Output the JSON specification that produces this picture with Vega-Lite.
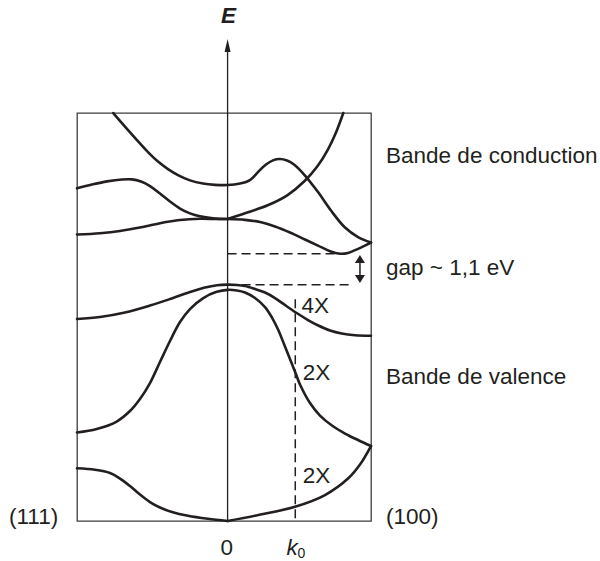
{
  "$schema": "https://vega.github.io/schema/vega-lite/v6.json",
  "width": 294,
  "height": 408,
  "autosize": {"type": "none"},
  "padding": {"left": 77, "top": 113, "right": 229, "bottom": 40},
  "background": "white",
  "config": {
    "view": {"stroke": "#3c3c3c", "strokeWidth": 1.3},
    "text": {"font": "Liberation Sans", "fontSize": 22.5, "color": "#231f20", "baseline": "alphabetic"}
  },
  "datasets": {
    "bands": [
      {"band": "A", "k": -0.797, "E": 6.098},
      {"band": "A", "k": -0.7155, "E": 5.618},
      {"band": "A", "k": -0.6318, "E": 5.139},
      {"band": "A", "k": -0.5551, "E": 4.712},
      {"band": "A", "k": -0.4854, "E": 4.375},
      {"band": "A", "k": -0.4156, "E": 4.108},
      {"band": "A", "k": -0.3459, "E": 3.895},
      {"band": "A", "k": -0.2622, "E": 3.706},
      {"band": "A", "k": -0.1715, "E": 3.593},
      {"band": "A", "k": -0.0879, "E": 3.547},
      {"band": "A", "k": 0, "E": 3.539},
      {"band": "A", "k": 0.0865, "E": 3.593},
      {"band": "A", "k": 0.1562, "E": 3.717},
      {"band": "A", "k": 0.212, "E": 4.001},
      {"band": "A", "k": 0.2678, "E": 4.268},
      {"band": "A", "k": 0.3166, "E": 4.417},
      {"band": "A", "k": 0.3654, "E": 4.463},
      {"band": "A", "k": 0.4142, "E": 4.41},
      {"band": "A", "k": 0.463, "E": 4.268},
      {"band": "A", "k": 0.5397, "E": 3.877},
      {"band": "A", "k": 0.6304, "E": 3.291},
      {"band": "A", "k": 0.7211, "E": 2.633},
      {"band": "A", "k": 0.8187, "E": 2.029},
      {"band": "A", "k": 0.9093, "E": 1.692},
      {"band": "A", "k": 1.0, "E": 1.496},

      {"band": "B-L", "k": -1.05, "E": 3.422},
      {"band": "B-L", "k": -0.9456, "E": 3.557},
      {"band": "B-L", "k": -0.841, "E": 3.671},
      {"band": "B-L", "k": -0.7364, "E": 3.738},
      {"band": "B-L", "k": -0.6667, "E": 3.742},
      {"band": "B-L", "k": -0.6039, "E": 3.664},
      {"band": "B-L", "k": -0.5411, "E": 3.504},
      {"band": "B-L", "k": -0.4714, "E": 3.237},
      {"band": "B-L", "k": -0.4017, "E": 2.953},
      {"band": "B-L", "k": -0.3319, "E": 2.704},
      {"band": "B-L", "k": -0.2622, "E": 2.534},
      {"band": "B-L", "k": -0.1925, "E": 2.427},
      {"band": "B-L", "k": -0.1018, "E": 2.356},
      {"band": "B-L", "k": 0, "E": 2.331},

      {"band": "B-R", "k": 0, "E": 2.331},
      {"band": "B-R", "k": 0.1213, "E": 2.534},
      {"band": "B-R", "k": 0.2838, "E": 2.829},
      {"band": "B-R", "k": 0.4184, "E": 3.184},
      {"band": "B-R", "k": 0.537, "E": 3.682},
      {"band": "B-R", "k": 0.6276, "E": 4.215},
      {"band": "B-R", "k": 0.6974, "E": 4.783},
      {"band": "B-R", "k": 0.7531, "E": 5.37},
      {"band": "B-R", "k": 0.8068, "E": 6.098},

      {"band": "C-L", "k": -1.05, "E": 1.78},
      {"band": "C-L", "k": -0.8898, "E": 1.827},
      {"band": "C-L", "k": -0.7503, "E": 1.905},
      {"band": "C-L", "k": -0.6109, "E": 2.029},
      {"band": "C-L", "k": -0.4714, "E": 2.182},
      {"band": "C-L", "k": -0.3319, "E": 2.296},
      {"band": "C-L", "k": -0.1925, "E": 2.342},
      {"band": "C-L", "k": -0.0879, "E": 2.335},
      {"band": "C-L", "k": 0, "E": 2.331},

      {"band": "C-R", "k": 0, "E": 2.331},
      {"band": "C-R", "k": 0.1213, "E": 2.303},
      {"band": "C-R", "k": 0.2259, "E": 2.225},
      {"band": "C-R", "k": 0.3305, "E": 2.065},
      {"band": "C-R", "k": 0.4351, "E": 1.851},
      {"band": "C-R", "k": 0.5397, "E": 1.603},
      {"band": "C-R", "k": 0.6304, "E": 1.389},
      {"band": "C-R", "k": 0.7141, "E": 1.187},
      {"band": "C-R", "k": 0.7838, "E": 1.1},
      {"band": "C-R", "k": 0.8396, "E": 1.127},
      {"band": "C-R", "k": 0.9093, "E": 1.272},
      {"band": "C-R", "k": 1.0, "E": 1.496},

      {"band": "D", "k": -1.05, "E": -1.222},
      {"band": "D", "k": -0.8898, "E": -1.151},
      {"band": "D", "k": -0.7155, "E": -0.991},
      {"band": "D", "k": -0.5411, "E": -0.743},
      {"band": "D", "k": -0.4017, "E": -0.512},
      {"band": "D", "k": -0.2622, "E": -0.263},
      {"band": "D", "k": -0.1576, "E": -0.103},
      {"band": "D", "k": -0.0739, "E": -0.021},
      {"band": "D", "k": 0, "E": 0},
      {"band": "D", "k": 0.0656, "E": -0.011},
      {"band": "D", "k": 0.1213, "E": -0.05},
      {"band": "D", "k": 0.1911, "E": -0.156},
      {"band": "D", "k": 0.2608, "E": -0.281},
      {"band": "D", "k": 0.3305, "E": -0.476},
      {"band": "D", "k": 0.4003, "E": -0.725},
      {"band": "D", "k": 0.4819, "E": -1.009},
      {"band": "D", "k": 0.5607, "E": -1.258},
      {"band": "D", "k": 0.6325, "E": -1.453},
      {"band": "D", "k": 0.7141, "E": -1.631},
      {"band": "D", "k": 0.7957, "E": -1.738},
      {"band": "D", "k": 0.8884, "E": -1.798},
      {"band": "D", "k": 1.0, "E": -1.819},

      {"band": "E", "k": -1.05, "E": -5.256},
      {"band": "E", "k": -0.9128, "E": -5.131},
      {"band": "E", "k": -0.7734, "E": -4.865},
      {"band": "E", "k": -0.6806, "E": -4.492},
      {"band": "E", "k": -0.6109, "E": -4.065},
      {"band": "E", "k": -0.5411, "E": -3.497},
      {"band": "E", "k": -0.4714, "E": -2.751},
      {"band": "E", "k": -0.4017, "E": -2.004},
      {"band": "E", "k": -0.3319, "E": -1.329},
      {"band": "E", "k": -0.2622, "E": -0.867},
      {"band": "E", "k": -0.1695, "E": -0.476},
      {"band": "E", "k": -0.076, "E": -0.256},
      {"band": "E", "k": 0, "E": -0.185},
      {"band": "E", "k": 0.0656, "E": -0.21},
      {"band": "E", "k": 0.1213, "E": -0.281},
      {"band": "E", "k": 0.1911, "E": -0.476},
      {"band": "E", "k": 0.2608, "E": -0.796},
      {"band": "E", "k": 0.3096, "E": -1.169},
      {"band": "E", "k": 0.3536, "E": -1.613},
      {"band": "E", "k": 0.3933, "E": -2.111},
      {"band": "E", "k": 0.4351, "E": -2.644},
      {"band": "E", "k": 0.4819, "E": -3.248},
      {"band": "E", "k": 0.5049, "E": -3.55},
      {"band": "E", "k": 0.5746, "E": -4.208},
      {"band": "E", "k": 0.6444, "E": -4.652},
      {"band": "E", "k": 0.728, "E": -5.007},
      {"band": "E", "k": 0.8187, "E": -5.291},
      {"band": "E", "k": 0.9093, "E": -5.522},
      {"band": "E", "k": 1.0, "E": -5.736},

      {"band": "F-L", "k": -1.05, "E": -6.528},
      {"band": "F-L", "k": -0.9247, "E": -6.581},
      {"band": "F-L", "k": -0.8201, "E": -6.695},
      {"band": "F-L", "k": -0.7503, "E": -6.891},
      {"band": "F-L", "k": -0.6806, "E": -7.157},
      {"band": "F-L", "k": -0.6109, "E": -7.459},
      {"band": "F-L", "k": -0.5411, "E": -7.726},
      {"band": "F-L", "k": -0.4714, "E": -7.921},
      {"band": "F-L", "k": -0.3877, "E": -8.081},
      {"band": "F-L", "k": -0.2762, "E": -8.216},
      {"band": "F-L", "k": -0.1367, "E": -8.323},
      {"band": "F-L", "k": 0, "E": -8.4},

      {"band": "F-R", "k": 0, "E": -8.4},
      {"band": "F-R", "k": 0.2141, "E": -8.188},
      {"band": "F-R", "k": 0.47, "E": -7.893},
      {"band": "F-R", "k": 0.6792, "E": -7.477},
      {"band": "F-R", "k": 0.8417, "E": -6.883},
      {"band": "F-R", "k": 0.9233, "E": -6.393},
      {"band": "F-R", "k": 1.0, "E": -5.736}
    ],
    "dashed": [
      {"k": 0, "E": 1.1, "k2": 0.785, "E2": 1.1},
      {"k": 0, "E": 0, "k2": 0.85, "E2": 0},
      {"k": 0.472, "E": -0.52, "k2": 0.472, "E2": -8.4}
    ],
    "labels": [
      {"text": "Bande de conduction", "k": 1.105, "E": 4.311},
      {"text": "gap ~ 1,1 eV", "k": 1.105, "E": 0.341},
      {"text": "Bande de valence", "k": 1.105, "E": -3.532},
      {"text": "(100)", "k": 1.105, "E": -8.507},
      {"text": "(111)", "k": -1.524, "E": -8.507},
      {"text": "4X", "k": 0.515, "E": -1.02},
      {"text": "2X", "k": 0.524, "E": -3.39},
      {"text": "2X", "k": 0.524, "E": -7.061}
    ]
  },
  "encoding": {
    "x": {"field": "k", "type": "quantitative", "scale": {"domain": [-1.05, 1], "nice": false, "zero": false}, "axis": null},
    "y": {"field": "E", "type": "quantitative", "scale": {"domain": [-8.4, 6.1], "nice": false, "zero": false}, "axis": null}
  },
  "layer": [
    {
      "description": "Energy axis through k = 0",
      "data": {"values": [{"k": 0, "E": -8.4, "k2": 0, "E2": 8.35}]},
      "mark": {"type": "rule", "color": "#231f20", "strokeWidth": 1.3},
      "encoding": {"x2": {"field": "k2"}, "y2": {"field": "E2"}}
    },
    {
      "description": "Arrow head of the energy axis",
      "data": {"values": [{"k": 0, "E": 8.497}]},
      "mark": {"type": "point", "shape": "M0,-1L-0.46,1L0.46,1Z", "size": 169, "filled": true, "color": "#231f20", "opacity": 1, "strokeWidth": 0}
    },
    {
      "description": "Band edges and k0 marker",
      "data": {"name": "dashed"},
      "mark": {"type": "rule", "color": "#231f20", "strokeWidth": 1.5, "strokeDash": [9, 5]},
      "encoding": {"x2": {"field": "k2"}, "y2": {"field": "E2"}}
    },
    {
      "description": "Gap double arrow shaft",
      "data": {"values": [{"k": 0.923, "E": 0.91, "k2": 0.923, "E2": 0.199}]},
      "mark": {"type": "rule", "color": "#231f20", "strokeWidth": 1.5},
      "encoding": {"x2": {"field": "k2"}, "y2": {"field": "E2"}}
    },
    {
      "description": "Gap double arrow heads",
      "data": {"values": [{"k": 0.923, "E": 0.91, "dir": "up"}, {"k": 0.923, "E": 0.199, "dir": "down"}]},
      "mark": {"type": "point", "size": 100, "filled": true, "color": "#231f20", "opacity": 1, "strokeWidth": 0},
      "encoding": {
        "shape": {"field": "dir", "type": "nominal", "legend": null,
          "scale": {"domain": ["up", "down"], "range": ["M0,-0.8L-1,0.8L1,0.8Z", "M0,0.8L-1,-0.8L1,-0.8Z"]}}
      }
    },
    {
      "description": "Energy bands",
      "data": {"name": "bands"},
      "mark": {"type": "line", "interpolate": "catmull-rom", "color": "#231f20", "strokeWidth": 2.6, "strokeJoin": "round", "strokeCap": "round"},
      "encoding": {"detail": {"field": "band", "type": "nominal"}}
    },
    {
      "data": {"name": "labels"},
      "mark": {"type": "text", "align": "left"},
      "encoding": {"text": {"field": "text"}}
    },
    {
      "data": {"values": [{"text": "0", "k": -0.006, "E": -9.609}]},
      "mark": {"type": "text", "align": "center"},
      "encoding": {"text": {"field": "text"}}
    },
    {
      "data": {"values": [{"text": "E", "k": 0.006, "E": 9.286}]},
      "mark": {"type": "text", "align": "center", "fontWeight": "bold", "fontStyle": "italic"},
      "encoding": {"text": {"field": "text"}}
    },
    {
      "data": {"values": [{"text": "k", "k": 0.411, "E": -9.609}]},
      "mark": {"type": "text", "align": "left", "fontStyle": "italic"},
      "encoding": {"text": {"field": "text"}}
    },
    {
      "data": {"values": [{"text": "0", "k": 0.487, "E": -9.72}]},
      "mark": {"type": "text", "align": "left", "fontSize": 14},
      "encoding": {"text": {"field": "text"}}
    }
  ]
}
